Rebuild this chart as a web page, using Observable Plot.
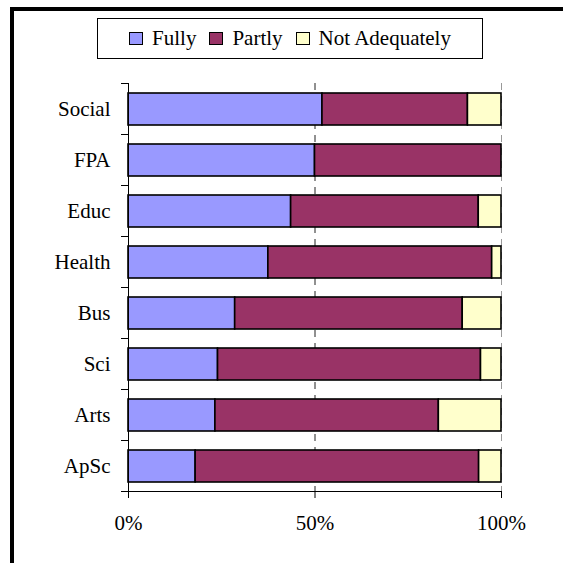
<!DOCTYPE html>
<html>
<head>
<meta charset="utf-8">
<style>
  html, body { margin: 0; padding: 0; background: #fff; }
  #page { position: relative; width: 563px; height: 563px; overflow: hidden; font-family: 'Liberation Serif', 'Times New Roman', serif; font-size: 21px; }
  #frame { position: absolute; left: 10px; top: 7px; width: 560px; height: 570px; border-left: 4.5px solid #000; border-top: 4px solid #000; box-sizing: border-box; }
  #chart { position: absolute; left: 0; top: 0; }
  #legend { position: absolute; left: 97px; top: 18px; width: 386px; height: 41px; border: 1px solid #000; box-sizing: border-box; background: #fff;
            display: flex; align-items: center; justify-content: center; gap: 13px; }
  .item { display: flex; align-items: center; gap: 9px; }
  .sw { width: 12px; height: 11px; border: 1.5px solid #000; }
</style>
</head>
<body>
<div id="page">
  <div id="chart"></div>
  <div id="frame"></div>
  <div id="legend" style="font-family: 'Liberation Serif'">
    <div class="item"><div class="sw" style="background:#9999FF"></div><span style="font-family: 'Liberation Serif'">Fully</span></div>
    <div class="item"><div class="sw" style="background:#993366"></div><span style="font-family: 'Liberation Serif'">Partly</span></div>
    <div class="item"><div class="sw" style="background:#FFFFCC"></div><span style="font-family: 'Liberation Serif'">Not Adequately</span></div>
  </div>
</div>
<script src="https://cdn.jsdelivr.net/npm/d3@7"></script>
<script src="https://cdn.jsdelivr.net/npm/@observablehq/plot@0.6"></script>
<script>
// Faculties, top to bottom
const categories = ["Social", "FPA", "Educ", "Health", "Bus", "Sci", "Arts", "ApSc"];

// Share of responses (%) per faculty
const fully         = [52.0, 50.0, 43.6, 37.5, 28.6, 24.0, 23.3, 18.0];
const partly        = [39.0, 50.0, 50.3, 60.0, 61.0, 70.5, 59.9, 76.0];
const notAdequately = [ 9.0,  0.0,  6.1,  2.5, 10.4,  5.5, 16.8,  6.0];

const seriesNames = ["Fully", "Partly", "Not Adequately"];
const seriesColors = ["#9999FF", "#993366", "#FFFFCC"];
const xTicks = [0, 50, 100];

const seriesValues = [fully, partly, notAdequately];
const rows = categories.flatMap((cat, i) =>
  seriesNames.map((s, k) => ({category: cat, index: i, response: s, value: seriesValues[k][i]}))
);

const chart = Plot.plot({
  width: 563,
  height: 563,
  marginTop: 83,
  marginBottom: 72,
  marginLeft: 128,
  marginRight: 62,
  style: {fontFamily: "'Liberation Serif', 'Times New Roman', serif", fontSize: "21px", color: "#000", background: "transparent"},
  x: {domain: [0, 100]},
  y: {domain: [0, categories.length], reverse: true},
  color: {domain: seriesNames, range: seriesColors},
  marks: [
    Plot.ruleX([50], {stroke: "#222", strokeDasharray: "7,6"}),
    Plot.ruleX([100], {stroke: "#999", strokeDasharray: "7,6"}),
    Plot.rectX(rows, Plot.stackX({
      x: "value", y: "index", interval: 1, fill: "response",
      order: seriesNames, stroke: "#000", strokeWidth: 1.6,
      insetTop: 10, insetBottom: 9
    })),
    // axis lines
    Plot.ruleX([0], {stroke: "#000"}),
    Plot.ruleY([categories.length], {stroke: "#000"}),
    // band boundary ticks
    Plot.axisY({ticks: d3.range(categories.length + 1), tickSize: 7, tickFormat: () => "", label: null}),
    // category labels at band centres
    Plot.axisY({ticks: categories.map((c, i) => i + 0.5), tickSize: 0, tickPadding: 18,
                tickFormat: d => categories[Math.floor(d)], label: null}),
    Plot.axisX({ticks: xTicks, tickSize: 7, tickPadding: 17, tickFormat: d => d + "%", label: null})
  ]
});
d3.select(chart).selectAll("text").attr("font-family", "Liberation Serif");
document.getElementById("chart").appendChild(chart);
</script>
</body>
</html>
